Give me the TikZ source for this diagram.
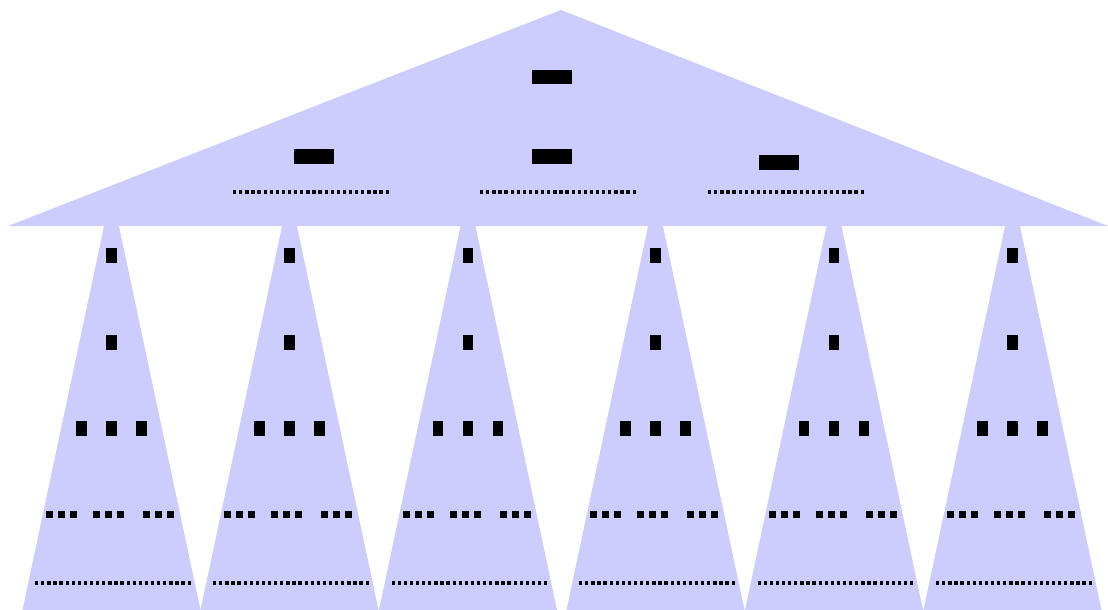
\documentclass[tikz,border=0pt]{standalone}

\definecolor{treefill}{HTML}{CCCCFF}

\begin{document}
\begin{tikzpicture}[x=1pt,y=-1pt]
          \tikzstyle{every node}=[inner sep=0pt,outer sep=0pt,fill=black]
          \tikzstyle{bignode}=[minimum width=40pt,minimum height=14.5pt]
          \tikzstyle{smallnode}=[minimum width=10.5pt,minimum height=15pt]
          \tikzstyle{leafnode}=[minimum width=7pt,minimum height=7pt]
          \tikzstyle{keynode}=[minimum width=3.3pt,minimum height=4pt]
          \useasboundingbox (0,0) rectangle (1108,610);
          % the six subtrees
          \foreach \c [count=\i] in {111.5,289.5,468,655.5,834,1012.5} {
            \fill[treefill] (\c,191) -- (\c-89,610) -- (\c+89,610) -- cycle;
            \node[smallnode] (t\i-root) at (\c,255.5) {};
            \node[smallnode] (t\i-a) at (\c,342.5) {};
            \foreach \dx [count=\j] in {-30,0,30}
              \node[smallnode] (t\i-b\j) at (\c+\dx,428.5) {};
            \foreach \gx [count=\j] in {-50,-3,47}
              \foreach \k in {1,2,3}
                \node[leafnode] (t\i-c\j\k) at (\c+\gx+12*\k-24,514.5) {};
            \foreach \k in {1,...,26}
              \node[keynode] (t\i-d\k) at (\c-74.85+6.1*\k-6.1,582.5) {};
          }
          % top of the tree
          \fill[treefill] (561,10) -- (8,226) -- (1108,226) -- cycle;
          \node[bignode] (root) at (552,77) {};
          \node[bignode] (left) at (314,156.5) {};
          \node[bignode] (mid) at (552,156.5) {};
          \node[bignode] (right) at (779,162.5) {};
          \foreach \x/\n in {233/left,480/mid,708/right}
            \foreach \k in {1,...,26}
              \node[keynode] (\n-key\k) at (\x+1.65+6.1*\k-6.1,192) {};
      \end{tikzpicture}
\end{document}
